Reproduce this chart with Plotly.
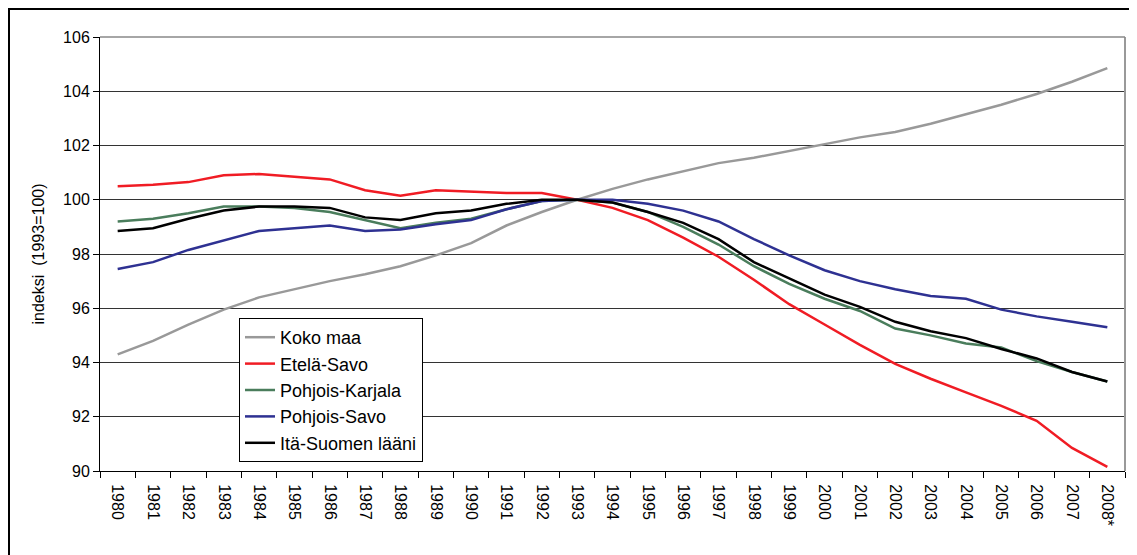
import plotly.graph_objects as go

years = ["1980","1981","1982","1983","1984","1985","1986","1987","1988","1989",
         "1990","1991","1992","1993","1994","1995","1996","1997","1998","1999",
         "2000","2001","2002","2003","2004","2005","2006","2007","2008*"]

koko_maa = [94.3, 94.8, 95.4, 95.95, 96.4, 96.7, 97.0, 97.25, 97.55, 97.95,
            98.4, 99.05, 99.55, 100.0, 100.4, 100.75, 101.05, 101.35, 101.55, 101.8,
            102.05, 102.3, 102.5, 102.8, 103.15, 103.5, 103.9, 104.35, 104.85]
etela_savo = [100.5, 100.55, 100.65, 100.9, 100.95, 100.85, 100.75, 100.35, 100.15, 100.35,
              100.3, 100.25, 100.25, 100.0, 99.7, 99.25, 98.6, 97.9, 97.05, 96.15,
              95.4, 94.65, 93.95, 93.4, 92.9, 92.4, 91.85, 90.85, 90.15]
pohjois_karjala = [99.2, 99.3, 99.5, 99.75, 99.75, 99.7, 99.55, 99.25, 98.95, 99.15,
                   99.3, 99.65, 99.95, 100.0, 99.9, 99.55, 99.0, 98.35, 97.55, 96.9,
                   96.35, 95.9, 95.25, 95.0, 94.7, 94.55, 94.05, 93.65, 93.3]
pohjois_savo = [97.45, 97.7, 98.15, 98.5, 98.85, 98.95, 99.05, 98.85, 98.9, 99.1,
                99.25, 99.65, 99.95, 100.0, 100.0, 99.85, 99.6, 99.2, 98.55, 97.95,
                97.4, 97.0, 96.7, 96.45, 96.35, 95.95, 95.7, 95.5, 95.3]
ita_suomi = [98.85, 98.95, 99.3, 99.6, 99.75, 99.75, 99.7, 99.35, 99.25, 99.5,
             99.6, 99.85, 100.0, 100.0, 99.9, 99.55, 99.15, 98.55, 97.7, 97.1,
             96.5, 96.05, 95.5, 95.15, 94.9, 94.5, 94.15, 93.65, 93.3]

series = [
    ("Koko maa", koko_maa, "#999999"),
    ("Etelä-Savo", etela_savo, "#f01c24"),
    ("Pohjois-Karjala", pohjois_karjala, "#4a7d5c"),
    ("Pohjois-Savo", pohjois_savo, "#2e3192"),
    ("Itä-Suomen lääni", ita_suomi, "#000000"),
]

fig = go.Figure()
for i, (name, vals, col) in enumerate(series):
    fig.add_trace(go.Scatter(x=years, y=vals, name=name, mode="lines",
                             legendgroup=f"g{i}",
                             line=dict(color=col, width=2.5)))

# page has an 8px body margin; figure starts at page (8, 8)
OFF = 8
W, H = 1137 - OFF, 555 - OFF
L, T = 100 - OFF, 37 - OFF
R = W - (1125 - OFF)
B = H - (471 - OFF)
pw, ph = W - L - R, H - T - B

def px2x(p):
    return (p - OFF - L) / pw

def px2y(p):
    return (T + ph - (p - OFF)) / ph

fig.update_layout(
    width=W, height=H,
    margin=dict(l=L, r=R, t=T, b=B, autoexpand=False),
    paper_bgcolor="white",
    plot_bgcolor="white",
    font=dict(family="Liberation Sans, Arial", size=16, color="black"),
    showlegend=True,
    legend=dict(x=px2x(239), y=px2y(318), xanchor="left", yanchor="top",
                bgcolor="white", bordercolor="black", borderwidth=1,
                tracegroupgap=4, font=dict(size=18), traceorder="normal"),
    shapes=[
        dict(type="line", xref="paper", yref="paper",
             x0=px2x(9), x1=px2x(9), y0=px2y(560), y1=px2y(8),
             line=dict(color="black", width=2)),
        dict(type="line", xref="paper", yref="paper",
             x0=px2x(8), x1=px2x(1140), y0=px2y(9), y1=px2y(9),
             line=dict(color="black", width=2)),
        dict(type="line", xref="paper", yref="paper",
             x0=1, x1=1, y0=0, y1=1, line=dict(color="#999999", width=2)),
        dict(type="line", xref="paper", yref="paper",
             x0=0, x1=1, y0=1, y1=1, line=dict(color="#888888", width=1.5)),
    ],
)
fig.update_xaxes(type="category", range=[-0.5, len(years) - 0.5],
                 tickangle=90, tickson="boundaries",
                 ticks="outside", ticklen=6, tickcolor="black",
                 showline=True, linecolor="black", linewidth=1,
                 showgrid=False, tickfont=dict(size=16), ticklabelstandoff=9,
                 automargin=False)
fig.update_yaxes(range=[90, 106], dtick=2, ticks="outside", ticklen=6,
                 tickcolor="black", showline=True, linecolor="black", linewidth=1,
                 showgrid=True, gridcolor="#333333", gridwidth=1,
                 zeroline=False, automargin=False,
                 title=dict(text="indeksi  (1993=100)", font=dict(size=16), standoff=14),
                 tickfont=dict(size=16))

fig.write_html("out.html")
